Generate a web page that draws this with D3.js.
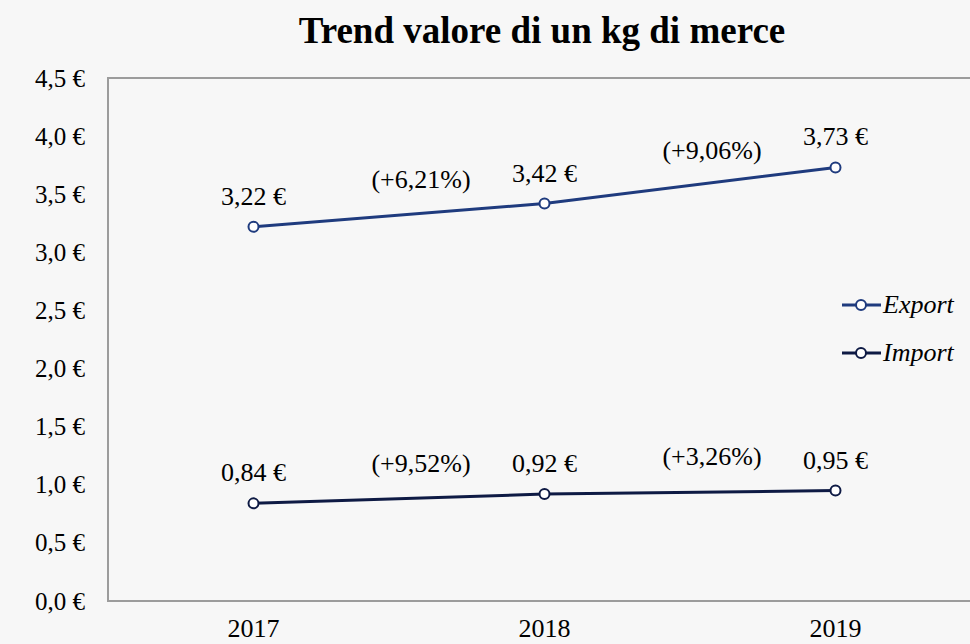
<!DOCTYPE html>
<html>
<head>
<meta charset="utf-8">
<script src="https://cdn.jsdelivr.net/npm/d3@7"></script>
<style>
  body { margin: 0; background: #f7f7f7; }
  svg { display: block; font-family: "Liberation Serif", "DejaVu Serif", serif; }
</style>
</head>
<body>
<script>
// chart data
var years = ['2017', '2018', '2019'];
var exportValues = [3.22, 3.42, 3.73];
var importValues = [0.84, 0.92, 0.95];
var exportChanges = ['(+6,21%)', '(+9,06%)'];
var importChanges = ['(+9,52%)', '(+3,26%)'];
var yTicks = [0, 0.5, 1, 1.5, 2, 2.5, 3, 3.5, 4, 4.5];

var w = 970;
var h = 644;
var margin = {left: 108, top: 78, bottom: 43};
var plotW = 873;  // plot area runs past the right edge

var svg = d3.select('body').append('svg')
  .attr('width', w)
  .attr('height', h);

var x = d3.scaleBand().domain(years).range([margin.left, margin.left + plotW]);
var y = d3.scaleLinear().domain([0, 4.5]).range([h - margin.bottom, margin.top]);

var fmt = function(v, digits) {
  return v.toFixed(digits).replace('.', ',') + ' €';
};
var cx = function(d, i) { return x(years[i]) + x.bandwidth() / 2; };

// title
svg.append('text')
  .attr('x', 542)
  .attr('y', 43)
  .attr('text-anchor', 'middle')
  .style('font-size', '37px')
  .style('font-weight', 'bold')
  .text('Trend valore di un kg di merce');

// plot border
svg.append('rect')
  .attr('x', margin.left)
  .attr('y', margin.top)
  .attr('width', plotW)
  .attr('height', y(0) - margin.top)
  .style('fill', 'none')
  .style('stroke', '#9c9c9c')
  .style('stroke-width', 2);

// y axis
var yAxis = svg.append('g')
  .attr('transform', 'translate(' + (margin.left - 23) + ',0)')
  .call(d3.axisLeft(y).tickValues(yTicks).tickSize(0).tickPadding(0)
    .tickFormat(function(d) { return fmt(d, 1); }));
yAxis.select('.domain').remove();
yAxis.selectAll('text').style('font-size', '25px').style('fill', '#000')
  .style('font-family', '"Liberation Serif", serif');

// x axis
var xAxis = svg.append('g')
  .attr('transform', 'translate(0,' + (y(0) + 14) + ')')
  .call(d3.axisBottom(x).tickSize(0).tickPadding(4));
xAxis.select('.domain').remove();
xAxis.selectAll('text').style('font-size', '26px').style('fill', '#000')
  .style('font-family', '"Liberation Serif", serif');

var series = [
  {name: 'Export', values: exportValues, changes: exportChanges, color: '#1f3b7e'},
  {name: 'Import', values: importValues, changes: importChanges, color: '#0e1a44'}
];

var line = d3.line()
  .x(cx)
  .y(function(d) { return y(d); });

series.forEach(function(s, k) {
  var g = svg.append('g');

  g.append('path')
    .datum(s.values)
    .attr('d', line)
    .style('fill', 'none')
    .style('stroke', s.color)
    .style('stroke-width', 3);

  g.selectAll('circle').data(s.values).enter()
    .append('circle')
    .attr('cx', cx)
    .attr('cy', function(d) { return y(d); })
    .attr('r', 5)
    .style('fill', '#fff')
    .style('stroke', s.color)
    .style('stroke-width', 2);

  // value labels
  g.selectAll('.val').data(s.values).enter()
    .append('text')
    .attr('x', cx)
    .attr('y', function(d) { return y(d) - 22; })
    .attr('text-anchor', 'middle')
    .style('font-size', '26px')
    .text(function(d) { return fmt(d, 2); });

  // percent change labels between points
  g.selectAll('.chg').data(s.changes).enter()
    .append('text')
    .attr('x', function(d, i) {
      return (cx(null, i) + cx(null, i + 1)) / 2 + 22;
    })
    .attr('y', function(d, i) {
      return y((s.values[i] + s.values[i + 1]) / 2) - 27;
    })
    .attr('text-anchor', 'middle')
    .style('font-size', '26px')
    .text(function(d) { return d; });

  // legend
  var ly = 305 + k * 48;
  var lg = svg.append('g');
  lg.append('line')
    .attr('x1', 842).attr('x2', 881)
    .attr('y1', ly).attr('y2', ly)
    .style('stroke', s.color)
    .style('stroke-width', 3);
  lg.append('circle')
    .attr('cx', 861).attr('cy', ly).attr('r', 5)
    .style('fill', '#fff')
    .style('stroke', s.color)
    .style('stroke-width', 2);
  lg.append('text')
    .attr('x', 883).attr('y', ly + 8)
    .style('font-size', '26px')
    .style('font-style', 'italic')
    .text(s.name);
});
</script>
</body>
</html>
